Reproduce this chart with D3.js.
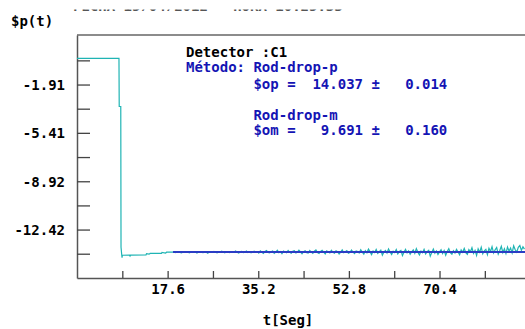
<!DOCTYPE html>
<html>
<head>
<meta charset="utf-8">
<script src="https://cdn.jsdelivr.net/npm/d3@7"></script>
<style>
  body { margin: 0; background: #fff; }
  svg text { font-family: "DejaVu Sans Mono", monospace; font-weight: bold; font-size: 14px; }
</style>
</head>
<body>
<svg id="chart" width="525" height="329"></svg>
<script>
// y ticks (minor ones get no label)
const yTicks = [-0.158, -1.91, -3.66, -5.41, -7.165, -8.92, -10.67, -12.42, -14.17];
const yLabels = ["", "-1.91", "", "-5.41", "", "-8.92", "", "-12.42", ""];
const xTicks = [8.8, 17.6, 26.4, 35.2, 44.0, 52.8, 61.6, 70.4, 79.2];
const xLabels = ["", "17.6", "", "35.2", "", "52.8", "", "70.4", ""];

// signal before and through the rod drop: [t, value]
const headSignal = [
  [0, -0.02], [8.15, -0.02], [8.2, -3.5], [8.5, -3.5], [8.55, -13.7],
  [8.7, -14.30], [8.75, -14.45], [8.8, -14.28], [10.2, -14.27], [10.3, -14.34],
  [10.4, -14.27], [13.4, -14.26], [13.5, -14.16], [14.0, -14.20], [14.2, -14.15],
  [16.4, -14.15], [16.5, -14.08], [17.2, -14.12], [17.4, -14.06], [18.2, -14.05]
];

// sampled tail of the signal, one value every tailStep seconds from tailStart
const tailStart = 18.5;
const tailStep = 0.3;
const tailValues = [
  -14.06,-14.04,-14.09,-14.05,-14.03,-14.08,-14.10,-14.04,-14.02,-14.07,
  -14.05,-14.11,-14.06,-14.03,-14.08,-14.04,-14.12,-14.05,-14.02,-14.07,
  -14.09,-14.04,-14.06,-14.13,-14.03,-14.05,-14.08,-14.01,-14.06,-14.10,
  -14.04,-14.07,-13.99,-14.05,-14.11,-14.03,-14.06,-14.09,-14.02,-14.08,
  -14.05,-13.98,-14.07,-14.12,-14.04,-14.01,-14.09,-14.06,-13.97,-14.08,
  -14.03,-14.10,-14.05,-13.99,-14.07,
  -14.02,-14.12,-13.96,-14.06,-14.15,-14.00,-13.94,-14.08,-14.11,-14.03,
  -13.97,-14.14,-14.05,-13.92,-14.09,-14.01,-14.16,-13.98,-14.04,-14.10,
  -13.93,-14.07,-14.13,-14.00,-13.95,-14.11,-14.06,-13.91,-14.03,-14.17,
  -14.02,-13.96,-14.09,-14.12,-13.94,-14.05,-14.14,-13.99,-13.90,-14.08,
  -14.15,-14.01,-13.93,-14.06,-14.18,-13.97,-14.04,-14.11,-13.92,-14.07,
  -14.13,-13.96,-14.02,-14.19,-14.05,-13.89,-14.10,-14.03,-13.95,-14.14,
  -14.08,-13.91,-14.06,-14.16,-13.98,-14.02,-14.12,
  -13.88,-14.05,-14.20,-13.95,-14.10,-13.84,-14.02,-14.24,-13.97,-14.08,
  -13.86,-14.15,-14.03,-13.91,-14.27,-14.06,-13.94,-14.12,-13.82,-14.04,
  -14.22,-13.99,-14.09,-13.87,-14.18,-14.01,-13.93,-14.30,-14.07,-13.85,
  -14.11,-13.96,-14.21,-14.03,-13.89,-14.14,-13.80,-14.06,-14.26,-13.98,
  -14.10,-13.86,-14.19,-14.02,-13.92,-14.34,-14.08,-13.83,-14.13,-13.97,
  -14.23,-14.04,-13.88,-14.16,-13.94,-14.28,-14.01,-13.81,-14.09,-14.20,
  -13.95,-14.12,-13.86,-14.05,-14.25,-13.90,-14.07,
  -13.79,-14.10,-14.22,-13.87,-14.03,-13.74,-14.15,-13.93,-14.29,-13.82,
  -14.06,-13.70,-14.18,-13.96,-13.85,-14.24,-13.77,-14.01,-13.66,-14.12,
  -13.89,-13.72,-14.20,-13.94,-13.63,-14.08,-13.81,-14.16,-13.69,-13.98,
  -13.76,-14.11,-13.60,-13.88,-14.05,-13.71,-13.58,-13.93,-13.67,-13.84
];

// fitted level (rod-drop-p)
const fitValue = -14.037;
const fitRange = [18.65, 87];

const infoLines = [
  { text: "Detector :C1", color: "#000" },
  { text: "Método: Rod-drop-p", color: "#1414b4" },
  { text: "        $op =  14.037 ±   0.014", color: "#1414b4" },
  { text: "        Rod-drop-m", color: "#1414b4" },
  { text: "        $om =   9.691 ±   0.160", color: "#1414b4" }
];
const infoBaselines = [57, 72, 89, 120, 135];

const svg = d3.select("#chart");
const margin = { left: 77, top: 35, right: 0, bottom: 51 };
const W = 525, H = 329;

const x = d3.scaleLinear().domain([0, 87]).range([margin.left, W - margin.right]);
const y = d3.scaleLinear().domain([-15.93, 1.68]).range([H - margin.bottom, margin.top]);

// header line scrolled off the top: only the lowest pixel row of it shows
svg.append("clipPath").attr("id", "topclip")
  .append("rect").attr("x", 0).attr("y", 9.5).attr("width", W).attr("height", 1.5);
svg.append("text")
  .attr("clip-path", "url(#topclip)")
  .attr("x", 73).attr("y", 11)
  .attr("fill", "#555")
  .attr("xml:space", "preserve")
  .text("FECHA 15/04/2012   HORA 10:25:33");

// top frame line
svg.append("line")
  .attr("x1", margin.left).attr("x2", W)
  .attr("y1", margin.top).attr("y2", margin.top)
  .attr("stroke", "#666").attr("stroke-width", 1.5);

const yAxis = d3.axisLeft(y)
  .tickValues(yTicks)
  .tickSizeInner(-13).tickSizeOuter(0)
  .tickPadding(12)
  .tickFormat((d, i) => yLabels[i]);

const xAxis = d3.axisBottom(x)
  .tickValues(xTicks)
  .tickSizeInner(-7).tickSizeOuter(0)
  .tickPadding(6)
  .tickFormat((d, i) => xLabels[i]);

const gy = svg.append("g")
  .attr("transform", `translate(${margin.left},0)`)
  .call(yAxis);
const gx = svg.append("g")
  .attr("transform", `translate(0,${H - margin.bottom})`)
  .call(xAxis);

[gx, gy].forEach(g => {
  g.attr("font-family", null).attr("font-size", null);
  g.select(".domain").attr("stroke", "#555").attr("stroke-width", 1.5);
  g.selectAll(".tick line").attr("stroke", "#444").attr("stroke-width", 1.3);
  g.selectAll(".tick text").attr("fill", "#000");
});
gy.selectAll(".tick text").attr("dy", "0.35em");

// axis titles
svg.append("text").attr("x", 11).attr("y", 26).attr("fill", "#000").text("$p(t)");
svg.append("text").attr("x", 288).attr("y", 325).attr("text-anchor", "middle")
  .attr("fill", "#000").text("t[Seg]");

// signal
const signal = headSignal.concat(tailValues.map((v, i) => [tailStart + i * tailStep, v]));
const line = d3.line().x(d => x(d[0])).y(d => y(d[1]));

svg.append("path")
  .datum(signal)
  .attr("d", line)
  .attr("fill", "none")
  .attr("stroke", "#1fb4b4")
  .attr("stroke-width", 1.2);

// fitted level
svg.append("path")
  .datum(fitRange.map(t => [t, fitValue]))
  .attr("d", line)
  .attr("fill", "none")
  .attr("stroke", "#2a3cc4")
  .attr("stroke-width", 2);

// info block
svg.append("g").selectAll("text")
  .data(infoLines)
  .join("text")
  .attr("x", 186)
  .attr("y", (d, i) => infoBaselines[i])
  .attr("xml:space", "preserve")
  .attr("fill", d => d.color)
  .text(d => d.text);
</script>
</body>
</html>
